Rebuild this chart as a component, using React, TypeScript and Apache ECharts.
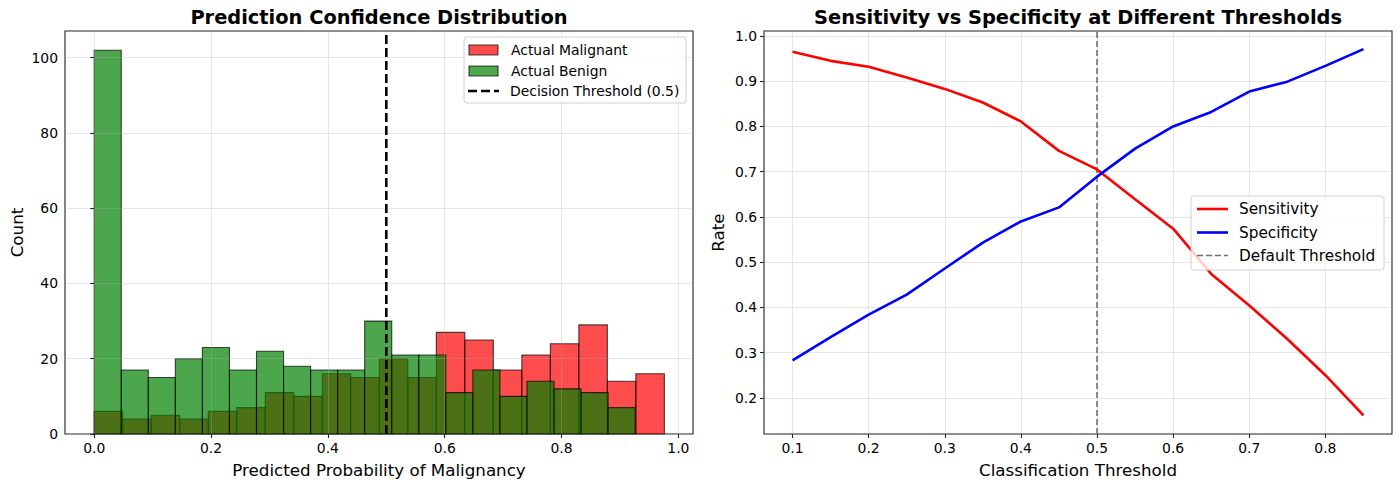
import React, { useEffect, useRef } from "react";
import * as echarts from "echarts";

// ---- Histogram of predicted probabilities ----
const BIN_COUNT = 20;
const MALIGNANT_RANGE = [0.0, 0.976];
const BENIGN_RANGE = [0.0, 0.926];
const malignantCounts = [6, 4, 5, 4, 6, 7, 11, 10, 16, 15, 20, 15, 27, 25, 17, 21, 24, 29, 14, 16];
const benignCounts = [102, 17, 15, 20, 23, 17, 22, 18, 17, 17, 30, 21, 21, 11, 17, 10, 14, 12, 11, 7];
const DECISION_THRESHOLD = 0.5;
const histXTicks = [0.0, 0.2, 0.4, 0.6, 0.8, 1.0];
const histYTicks = [0, 20, 40, 60, 80, 100];
const HIST_X_EXTENT = [-0.05, 1.025];
const HIST_Y_EXTENT = [0, 107.1];

// ---- Sensitivity / specificity sweep ----
const thresholds = [0.1, 0.15, 0.2, 0.25, 0.3, 0.35, 0.4, 0.45, 0.5, 0.55, 0.6, 0.65, 0.7, 0.75, 0.8, 0.85];
const sensitivity = [0.965, 0.945, 0.932, 0.908, 0.883, 0.853, 0.811, 0.746, 0.705, 0.639, 0.574, 0.474, 0.404, 0.33, 0.25, 0.161];
const specificity = [0.283, 0.334, 0.384, 0.428, 0.486, 0.543, 0.59, 0.621, 0.689, 0.751, 0.8, 0.832, 0.877, 0.899, 0.934, 0.971];
const DEFAULT_THRESHOLD = 0.5;
const rateXTicks = [0.1, 0.2, 0.3, 0.4, 0.5, 0.6, 0.7, 0.8];
const rateYTicks = [0.2, 0.3, 0.4, 0.5, 0.6, 0.7, 0.8, 0.9, 1.0];
const RATE_X_EXTENT = [0.0625, 0.8875];
const RATE_Y_EXTENT = [0.12, 1.011];

const FONT = "DejaVu Sans";
const RED_FILL = "rgba(255,0,0,0.7)";
const GREEN_FILL = "rgba(0,128,0,0.7)";
const EDGE = "rgba(0,0,0,0.7)";
const GRID_LINE = { show: true, lineStyle: { color: "rgba(176,176,176,0.3)", width: 1.1 } };

function binned(range: number[], counts: number[]) {
  const w = (range[1] - range[0]) / BIN_COUNT;
  return counts.map((c, i) => [range[0] + i * w, range[0] + (i + 1) * w, c]);
}

function histRender(fill: string) {
  return (params: any, api: any) => {
    const p0 = api.coord([api.value(0), api.value(2)]);
    const p1 = api.coord([api.value(1), 0]);
    return {
      type: "rect",
      shape: { x: p0[0], y: p0[1], width: p1[0] - p0[0], height: p1[1] - p0[1] },
      style: { fill, stroke: EDGE, lineWidth: 1.1 },
    };
  };
}

function valueAxis(
  extent: number[],
  ticks: number[],
  fmt: (v: number) => string,
  gridIndex: number,
  extra: any
) {
  return {
    type: "value",
    gridIndex,
    min: extent[0],
    max: extent[1],
    axisLine: { show: false },
    axisTick: { show: true, customValues: ticks, length: 4, lineStyle: { color: "#222", width: 1.1 } },
    axisLabel: {
      customValues: ticks,
      formatter: (v: number) => fmt(v),
      color: "#000",
      fontSize: 13.9,
      fontFamily: FONT,
      margin: 7,
    },
    splitLine: GRID_LINE,
    nameLocation: "middle",
    nameTextStyle: { color: "#000", fontSize: 16.7, fontFamily: FONT },
    ...extra,
  };
}

const oneDecimal = (v: number) => v.toFixed(1);
const integer = (v: number) => String(Math.round(v));

function legendRow(kind: "patch" | "line", x: number, y: number, text: string, style: any, fontSize: number) {
  const mark =
    kind === "patch"
      ? { type: "rect", z: 101, shape: { x, y: y - 5, width: 29, height: 10 }, style }
      : { type: "line", z: 101, shape: { x1: x, y1: y, x2: x + 31, y2: y }, style };
  return [
    mark,
    {
      type: "text",
      z: 101,
      x: x + 42,
      y,
      style: { text, fill: "#000", fontSize, fontFamily: FONT, textVerticalAlign: "middle" },
    },
  ];
}

export default function App() {
  const ref = useRef<HTMLDivElement>(null);

  useEffect(() => {
    if (!ref.current) return;
    const chart = echarts.init(ref.current, null, { renderer: "svg" });

    const option: any = {
      animation: false,
      textStyle: { fontFamily: FONT },
      grid: [
        { left: 65, top: 31, width: 628, height: 403, show: true, borderColor: "#222", borderWidth: 1.1, backgroundColor: "transparent" },
        { left: 764, top: 31, width: 628, height: 403, show: true, borderColor: "#222", borderWidth: 1.1, backgroundColor: "transparent" },
      ],
      xAxis: [
        valueAxis(HIST_X_EXTENT, histXTicks, oneDecimal, 0, {
          name: "Predicted Probability of Malignancy",
          nameGap: 27,
          z: 3,
        }),
        valueAxis(RATE_X_EXTENT, rateXTicks, oneDecimal, 1, {
          name: "Classification Threshold",
          nameGap: 27,
        }),
      ],
      yAxis: [
        valueAxis(HIST_Y_EXTENT, histYTicks, integer, 0, { name: "Count", nameGap: 40, z: 3 }),
        valueAxis(RATE_Y_EXTENT, rateYTicks, oneDecimal, 1, { name: "Rate", nameGap: 38 }),
      ],
      series: [
        {
          name: "Actual Malignant",
          type: "custom",
          xAxisIndex: 0,
          yAxisIndex: 0,
          z: 2,
          encode: { x: [0, 1], y: 2 },
          data: binned(MALIGNANT_RANGE, malignantCounts),
          renderItem: histRender(RED_FILL),
        },
        {
          name: "Actual Benign",
          type: "custom",
          xAxisIndex: 0,
          yAxisIndex: 0,
          z: 2,
          encode: { x: [0, 1], y: 2 },
          data: binned(BENIGN_RANGE, benignCounts),
          renderItem: histRender(GREEN_FILL),
        },
        {
          name: "Decision Threshold (0.5)",
          type: "line",
          xAxisIndex: 0,
          yAxisIndex: 0,
          z: 5,
          symbol: "none",
          silent: true,
          data: [
            [DECISION_THRESHOLD, HIST_Y_EXTENT[0]],
            [DECISION_THRESHOLD, HIST_Y_EXTENT[1]],
          ],
          lineStyle: { color: "#000", width: 2.6, type: [9, 4] },
        },
        {
          name: "Sensitivity",
          type: "line",
          xAxisIndex: 1,
          yAxisIndex: 1,
          z: 4,
          symbol: "none",
          data: thresholds.map((t, i) => [t, sensitivity[i]]),
          lineStyle: { color: "#ff0000", width: 2.6 },
        },
        {
          name: "Specificity",
          type: "line",
          xAxisIndex: 1,
          yAxisIndex: 1,
          z: 4,
          symbol: "none",
          data: thresholds.map((t, i) => [t, specificity[i]]),
          lineStyle: { color: "#0000ff", width: 2.6 },
        },
        {
          name: "Default Threshold",
          type: "line",
          xAxisIndex: 1,
          yAxisIndex: 1,
          z: 3,
          symbol: "none",
          silent: true,
          data: [
            [DEFAULT_THRESHOLD, RATE_Y_EXTENT[0]],
            [DEFAULT_THRESHOLD, RATE_Y_EXTENT[1]],
          ],
          lineStyle: { color: "#707070", width: 1.6, type: [6, 3] },
        },
      ],
      graphic: [
        {
          type: "text",
          z: 100,
          x: 379,
          y: 17,
          style: {
            text: "Prediction Confidence Distribution",
            fill: "#000",
            fontSize: 19.4,
            fontWeight: "bold",
            fontFamily: FONT,
            textAlign: "center",
            textVerticalAlign: "middle",
          },
        },
        {
          type: "text",
          z: 100,
          x: 1078,
          y: 17,
          style: {
            text: "Sensitivity vs Specificity at Different Thresholds",
            fill: "#000",
            fontSize: 19.4,
            fontWeight: "bold",
            fontFamily: FONT,
            textAlign: "center",
            textVerticalAlign: "middle",
          },
        },
        // histogram legend
        {
          type: "rect",
          z: 100,
          shape: { x: 464, y: 37, width: 222, height: 66, r: 3 },
          style: { fill: "rgba(255,255,255,0.8)", stroke: "#d0d0d0", lineWidth: 1 },
        },
        ...legendRow("patch", 469, 50, "Actual Malignant", { fill: RED_FILL, stroke: EDGE, lineWidth: 1.1 }, 13.9),
        ...legendRow("patch", 469, 71, "Actual Benign", { fill: GREEN_FILL, stroke: EDGE, lineWidth: 1.1 }, 13.9),
        ...legendRow("line", 468, 91, "Decision Threshold (0.5)", { stroke: "#000", lineWidth: 2.6, lineDash: [9, 4] }, 13.9),
        // rate legend
        {
          type: "rect",
          z: 100,
          shape: { x: 1191, y: 196, width: 193, height: 74, r: 3 },
          style: { fill: "rgba(255,255,255,0.8)", stroke: "#d0d0d0", lineWidth: 1 },
        },
        ...legendRow("line", 1197, 209, "Sensitivity", { stroke: "#ff0000", lineWidth: 2.6 }, 15.3),
        ...legendRow("line", 1197, 232.5, "Specificity", { stroke: "#0000ff", lineWidth: 2.6 }, 15.3),
        ...legendRow("line", 1197, 255.5, "Default Threshold", { stroke: "#707070", lineWidth: 1.6, lineDash: [6, 3] }, 15.3),
      ],
    };

    chart.setOption(option);
    return () => chart.dispose();
  }, []);

  return (
    <div
      ref={ref}
      style={{ position: "fixed", left: 0, top: 0, width: 1400, height: 488, background: "#fff" }}
    />
  );
}
